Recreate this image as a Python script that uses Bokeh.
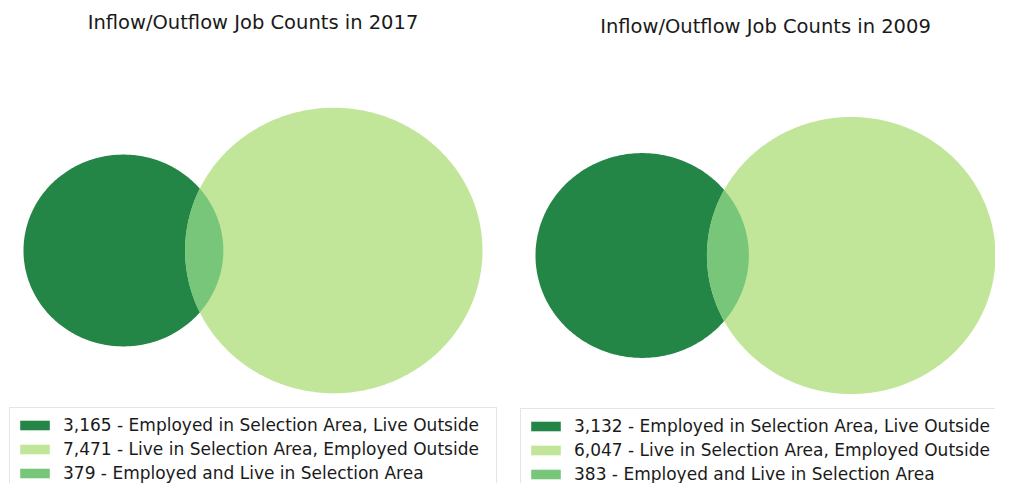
import numpy as np
from bokeh.plotting import figure
from bokeh.models import Range1d, Legend, LegendItem, Label
from bokeh.layouts import row
from bokeh.embed import file_html
from bokeh.resources import INLINE

# ---- data -------------------------------------------------------------
years = ["2017", "2009"]
employed_in_live_outside = [3165, 3132]   # Employed in Selection Area, Live Outside
live_in_employed_outside = [7471, 6047]   # Live in Selection Area, Employed Outside
employed_and_live_in = [379, 383]         # Employed and Live in Selection Area
category_names = [
    "Employed in Selection Area, Live Outside",
    "Live in Selection Area, Employed Outside",
    "Employed and Live in Selection Area",
]
title_prefix = "Inflow/Outflow Job Counts in "

# ---- style ------------------------------------------------------------
colors = ["#248646", "#c2e699", "#78c679"]
FONT = "DejaVu Sans"
HEIGHT = 483


def lens_area(r1, r2, d):
    if d >= r1 + r2:
        return 0.0
    if d <= abs(r1 - r2):
        return np.pi * min(r1, r2) ** 2
    a1 = np.arccos((d * d + r1 * r1 - r2 * r2) / (2 * d * r1))
    a2 = np.arccos((d * d + r2 * r2 - r1 * r1) / (2 * d * r2))
    k = (-d + r1 + r2) * (d + r1 - r2) * (d - r1 + r2) * (d + r1 + r2)
    return r1 * r1 * a1 + r2 * r2 * a2 - 0.5 * np.sqrt(k)


def solve_distance(r1, r2, target):
    lo, hi = abs(r1 - r2) + 1e-9, r1 + r2
    for _ in range(100):
        mid = 0.5 * (lo + hi)
        if lens_area(r1, r2, mid) > target:
            lo = mid
        else:
            hi = mid
    return 0.5 * (lo + hi)


def make_panel(i, width, pad_left, pad_right, center_from_top,
               title_center_from_top, legend_x, first_row_center,
               standoff, label_width):
    height = HEIGHT
    a_only = employed_in_live_outside[i]
    b_only = live_in_employed_outside[i]
    ab = employed_and_live_in[i]
    total = a_only + b_only + ab
    area_a = (a_only + ab) / total
    area_b = (b_only + ab) / total
    area_ab = ab / total
    r1 = np.sqrt(area_a / np.pi)
    r2 = np.sqrt(area_b / np.pi)
    d = solve_distance(r1, r2, area_ab)

    sx = (width - pad_left - pad_right) / (r1 + d + r2)
    sy = sx * 0.96
    x0 = -r1 - pad_left / sx
    y0 = -(height - center_from_top) / sy

    p = figure(width=width, height=height,
               x_range=Range1d(x0, x0 + width / sx),
               y_range=Range1d(y0, y0 + height / sy),
               output_backend="svg", toolbar_location=None,
               x_axis_location=None, y_axis_location=None,
               min_border=0, outline_line_color=None,
               background_fill_color="white", border_fill_color="white")
    p.grid.visible = False

    t = np.linspace(0, 2 * np.pi, 361)
    ra = p.patch(r1 * np.cos(t), r1 * np.sin(t),
                 fill_color=colors[0], line_color=None)
    rb = p.patch(d + r2 * np.cos(t), r2 * np.sin(t),
                 fill_color=colors[1], line_color=None)
    a1 = np.arccos((d * d + r1 * r1 - r2 * r2) / (2 * d * r1))
    a2 = np.arccos((d * d + r2 * r2 - r1 * r1) / (2 * d * r2))
    ta = np.linspace(-a1, a1, 120)
    tb = np.linspace(np.pi - a2, np.pi + a2, 120)
    lx = np.concatenate([r1 * np.cos(ta), d + r2 * np.cos(tb)])
    ly = np.concatenate([r1 * np.sin(ta), r2 * np.sin(tb)])
    rl = p.patch(lx, ly, fill_color=colors[2], line_color=None)

    p.add_layout(Label(x=(-r1 + d + r2) / 2, x_units="data",
                       y=height - title_center_from_top, y_units="screen",
                       text=title_prefix + years[i], text_align="center",
                       text_baseline="middle", text_font=FONT,
                       text_font_size="19.5px", text_color="#1a1a1a"))

    values = [a_only, b_only, ab]
    rends = [ra, rb, rl]
    items = [LegendItem(label=f"{v:,} - {name}", renderers=[r])
             for v, name, r in zip(values, category_names, rends)]
    padding, spacing, label_h = 6, 2, 22
    legend_h = 3 * label_h + 2 * spacing + 2 * padding
    legend_top = first_row_center - label_h / 2 - padding
    legend = Legend(items=items,
                    location=(legend_x, height - legend_top - legend_h),
                    glyph_width=37, glyph_height=12,
                    label_height=label_h, label_width=label_width,
                    label_standoff=standoff,
                    spacing=spacing, padding=padding, margin=0,
                    label_text_font=FONT, label_text_font_size="17px",
                    label_text_color="#1a1a1a",
                    border_line_color="#cccccc", border_line_width=1,
                    background_fill_color="white", background_fill_alpha=1.0)
    p.add_layout(legend)
    return p


p1 = make_panel(0, 497, 23, 15, 250, 22, 9, 426, 10, 427)
p2 = make_panel(1, 498, 38, 0, 255, 25.5, 23, 427, 10, 440)

layout = row(p1, p2)
open("out.html", "w").write(file_html(layout, INLINE))
